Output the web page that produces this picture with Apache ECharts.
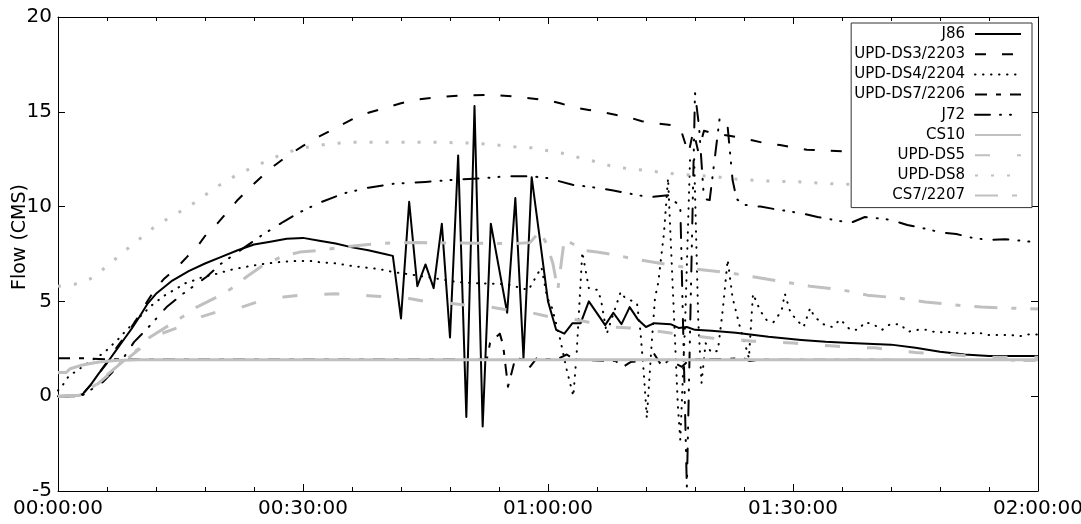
<!DOCTYPE html>
<html>
<head>
<meta charset="utf-8">
<script src="https://cdn.jsdelivr.net/npm/echarts@6/dist/echarts.min.js"></script>
<style>
  html, body { margin: 0; padding: 0; background: #ffffff; }
  #chart { width: 1081px; height: 524px; }
</style>
</head>
<body>
<div id="chart"></div>
<script>
// Flow hydrographs, time in minutes from 00:00:00, flow in CMS.
const seriesNames = ['J86', 'UPD-DS3/2203', 'UPD-DS4/2204', 'UPD-DS7/2206', 'J72',
                     'CS10', 'UPD-DS5', 'UPD-DS8', 'CS7/2207'];

const j86 = [[0,0],[2,0],[3,0.1],[4,0.6],[5,1.2],[6,1.75],[7,2.35],[8,2.95],[9,3.55],[10,4.2],
  [11,4.9],[12,5.4],[14,6.1],[16,6.6],[18,7.0],[20,7.35],[22,7.7],[24,8.0],[26,8.15],[28,8.3],
  [30,8.35],[32,8.2],[34,8.05],[36,7.85],[38,7.7],[40,7.5],[41,7.4],[42,4.1],[43,10.25],[44,5.8],
  [45,6.95],[46,5.7],[47,9.1],[48,3.1],[49,12.7],[50,-1.1],[51,15.3],[52,-1.6],[53,9.1],[55,4.4],
  [56,10.45],[57,2.0],[58,11.55],[59,8.3],[60,5.0],[61,3.5],[62,3.3],[63,3.85],[64,3.85],[65,5.0],
  [67,3.75],[68,4.4],[69,3.8],[70,4.7],[71,4.05],[72,3.65],[73,3.85],[75,3.8],[76,3.6],[77,3.65],
  [78,3.5],[80,3.45],[83,3.35],[87,3.13],[91,2.97],[94,2.87],[97,2.8],[102,2.72],[105,2.55],
  [108,2.35],[111,2.2],[114,2.12],[120,2.12]];

const updDs3 = [[0,0],[2,0],[3,0.1],[4,0.6],[5,1.2],[6,1.8],[7,2.45],[8,3.05],[9,3.65],[10,4.3],
  [11,5.05],[12,5.7],[13,6.2],[14.6,6.8],[15.8,7.35],[17.2,7.97],[18,8.45],[19.5,9.1],[21,9.85],
  [22,10.35],[24,11.2],[26,12.0],[28,12.65],[30,13.2],[32,13.7],[34,14.15],[36,14.6],[38,14.95],
  [40,15.2],[42,15.45],[44,15.65],[46,15.75],[49,15.85],[53,15.9],[56,15.8],[58,15.7],[60,15.6],
  [61.5,15.45],[63,15.25],[65,15.1],[67,14.95],[70,14.7],[71.5,14.5],[73,14.4],[75,14.3],
  [76.2,14.15],[77.2,12.8],[77.8,14.0],[78.4,12.9],[79.1,14.0],[80,13.9],[82,13.75],[84,13.6],
  [85,13.5],[87,13.3],[88.4,13.25],[90.2,13.1],[91.7,13.0],[94,12.95],[97,12.9],[100,12.8],
  [105,12.6],[110,12.4],[115,12.2],[120,12.0]];

const updDs4 = [[0,0.3],[0.6,0.6],[1.3,1.05],[2.5,1.4],[3.5,1.7],[4.5,2.0],[5.6,2.27],[6.5,2.65],
  [7.5,3.06],[8.3,3.45],[9.3,3.87],[10.3,4.3],[11.5,4.8],[13,5.3],[14.6,5.7],[15.6,5.96],[16.6,6.1],
  [17.8,6.3],[19,6.4],[21,6.65],[22.7,6.8],[24,6.9],[25.6,7.0],[27.6,7.1],[29.3,7.13],[31,7.13],
  [32,7.07],[34.2,7.0],[35.4,6.9],[37.4,6.8],[39.4,6.7],[41,6.55],[43.5,6.4],[46.4,6.2],[48.9,6.02],
  [51.3,5.96],[55,5.9],[57.6,5.6],[59.2,6.8],[59.9,5.2],[60.5,4.65],[61.5,2.98],[62.3,1.38],
  [63.1,0.0],[63.5,2.2],[64.2,7.6],[65,5.7],[66.1,5.6],[66.5,5.06],[67.2,3.3],[68.9,5.5],[69.4,5.2],
  [70.9,4.9],[71.3,3.5],[71.7,1.4],[72.1,-1.15],[72.7,2.8],[73.1,5.17],[73.5,6.0],[74.2,8.6],
  [74.7,11.5],[75.3,5.5],[75.9,-0.5],[76.2,-2.3],[76.8,4.0],[77.4,12.6],[77.9,12.5],[78.4,4.0],
  [78.8,0.7],[79.3,2.8],[80,2.3],[80.8,2.4],[81.4,4.55],[82,7.2],[82.6,5.2],[83.5,3.65],[84.1,2.8],
  [84.6,2.0],[85.1,5.4],[86,4.5],[86.8,4.0],[87.6,3.9],[88.6,4.5],[89,5.4],[89.7,4.4],[90.5,4.0],
  [91.3,3.65],[92.1,4.65],[92.6,4.2],[93.7,3.8],[94.8,3.65],[95.8,4.05],[97,3.5],[98,3.5],[98.8,3.9],
  [99.8,3.8],[100.9,3.5],[101.9,3.8],[103.1,3.8],[104.1,3.4],[105.3,3.5],[106.4,3.5],[107.6,3.35],
  [108.8,3.4],[110,3.35],[111.3,3.3],[112.7,3.35],[113.9,3.23],[115.3,3.23],[116.6,3.23],
  [117.8,3.17],[119,3.27],[120,3.25]];

const updDs7 = [[0,2.0],[3,2.0],[6,1.95],[10,1.93],[50,1.93],[52.5,1.93],[52.9,2.8],[54.1,3.3],
  [54.5,2.7],[55.1,0.5],[56,2.0],[57.2,1.93],[57.8,1.55],[58.6,2.0],[61,1.93],[62.3,2.2],[63.2,1.93],
  [68.3,1.85],[69.2,1.55],[70.1,1.8],[72.4,1.93],[72.9,2.3],[74,1.55],[74.8,1.93],[75.5,1.75],
  [76.4,1.55],[77,1.8],[78,1.93],[84,2.0],[84.7,1.85],[86,1.93],[120,1.9]];

const j72 = [[0,0],[3,0.05],[4.6,0.5],[5.5,0.75],[7.3,1.55],[9.3,2.85],[11,3.6],[13.3,4.7],
  [15.3,5.4],[18.2,6.3],[20,7.0],[22,7.6],[25,8.5],[27.6,9.2],[29.6,9.7],[32,10.2],[35,10.7],
  [38,11.0],[41,11.2],[45,11.3],[48,11.4],[52,11.5],[55,11.6],[58,11.6],[60,11.5],[63,11.15],
  [65,11.05],[68,10.85],[71,10.6],[72.5,10.5],[74.7,10.6],[76.2,10.0],[77,-4.8],[78,16.0],
  [78.5,14.2],[79.1,10.4],[79.8,10.35],[81,14.6],[82,14.2],[82.6,11.4],[83.1,10.4],[84,10.1],
  [86,10.0],[88,9.85],[91,9.65],[93,9.45],[95,9.3],[97,9.13],[98.8,9.45],[100,9.4],[102,9.3],
  [104,9.03],[106,8.85],[108,8.65],[110,8.55],[112,8.35],[114,8.24],[116,8.28],[118,8.2],
  [119.5,8.13],[120,7.87]];

const cs10 = [[0,1.25],[1,1.25],[1.5,1.45],[3,1.65],[5,1.8],[7,1.88],[10,1.92],[120,1.92]];

const updDs5 = [[0,0],[3,0.05],[5,0.7],[8,1.8],[10,2.5],[12,3.2],[14.6,3.6],[17.6,4.2],[19.5,4.45],
  [22.5,4.7],[24.4,4.97],[27.6,5.23],[30,5.35],[34,5.4],[38,5.3],[40,5.25],[43,5.15],[45,5.0],
  [48,4.9],[50,4.8],[53,4.7],[55,4.55],[58,4.4],[60,4.2],[63,4.07],[65,3.9],[68,3.65],[70,3.6],
  [73,3.45],[75,3.33],[78,3.17],[80,3.07],[83,3.0],[85,2.9],[88,2.85],[90,2.8],[93,2.7],[95,2.65],
  [98,2.55],[100,2.55],[103,2.4],[105,2.3],[108,2.25],[110,2.17],[114,2.06],[120,2.05]];

const updDs8 = [[0,5.8],[2,5.9],[4,6.2],[6,6.85],[8,7.6],[10,8.3],[12,9.0],[14,9.5],[16,10.0],
  [18,10.6],[20,11.2],[22,11.7],[24,12.1],[26,12.5],[28,12.85],[30,13.1],[33,13.3],[36,13.4],
  [45,13.4],[50,13.36],[52.5,13.3],[56,13.15],[58,13.1],[60,12.95],[62,12.8],[64,12.56],[66,12.35],
  [68,12.1],[70,12.0],[72,11.9],[74,11.8],[76,11.7],[80,11.6],[83,11.45],[87,11.35],[91,11.3],
  [95,11.2],[100,11.15],[110,11.1],[120,11.0]];

const cs7 = [[0,0],[3,0.05],[5,0.75],[8,1.85],[10,2.55],[11.2,3.1],[14,3.85],[15.3,4.2],[17,4.7],
  [19.8,5.3],[21.5,5.75],[23.1,6.3],[25.1,6.9],[27.6,7.4],[29.6,7.6],[32.4,7.7],[35,7.88],[38,8.0],
  [40,8.07],[44,8.1],[56,8.05],[57.8,8.1],[59,8.7],[59.8,8.07],[60.6,7.0],[61.2,5.6],[62,8.3],
  [64.3,7.7],[66,7.6],[68.2,7.45],[71,7.2],[75.3,6.9],[78.2,6.7],[82.3,6.5],[85.1,6.3],[89.3,6.0],
  [92.1,5.8],[96.1,5.6],[99.1,5.33],[103.1,5.17],[106.2,4.97],[110.2,4.8],[113.1,4.7],[116,4.65],
  [120,4.6]];

const seriesData = [j86, updDs3, updDs4, updDs7, j72, cs10, updDs5, updDs8, cs7];

const BLACK = '#000000';
const GRAY = '#c0c0c0';
const FONT = 'DejaVu Sans';

// colour, width, dash pattern and cap for each curve
const lineLooks = [
  { color: BLACK, width: 2,   type: 'solid',           cap: 'butt'  },
  { color: BLACK, width: 2,   type: [11, 16],          cap: 'butt'  },
  { color: BLACK, width: 2,   type: [0.5, 7.5],        cap: 'round' },
  { color: BLACK, width: 2,   type: [12, 9, 5, 9],     cap: 'butt'  },
  { color: BLACK, width: 2,   type: [15, 10, 1, 9, 1, 12], cap: 'round' },
  { color: GRAY,  width: 3,   type: 'solid',           cap: 'butt'  },
  { color: GRAY,  width: 3,   type: [15, 27],          cap: 'butt'  },
  { color: GRAY,  width: 3,   type: [3, 13],           cap: 'butt'  },
  { color: GRAY,  width: 3,   type: [23, 14, 5, 14],   cap: 'butt'  }
];

function pad2(n) { return (n < 10 ? '0' : '') + n; }
function clock(minutes) {
  const h = Math.floor(minutes / 60);
  const m = Math.round(minutes - h * 60);
  return pad2(h) + ':' + pad2(m) + ':00';
}

const frameLine = { show: true, onZero: false, lineStyle: { color: BLACK, width: 1 } };
const tickIn = { show: true, inside: true, length: 7, lineStyle: { color: BLACK, width: 1 } };
const minorIn = { show: true, splitNumber: 5, length: 4, lineStyle: { color: BLACK, width: 1 } };

const chart = echarts.init(document.getElementById('chart'), null, { renderer: 'canvas' });

chart.setOption({
  animation: false,
  backgroundColor: '#ffffff',
  grid: { left: 58, right: 43, top: 17, bottom: 33, outerBoundsMode: 'none', containLabel: false },
  xAxis: [
    {
      type: 'value', min: 0, max: 120, interval: 30,
      axisLine: frameLine, axisTick: tickIn, minorTick: minorIn,
      splitLine: { show: false }, minorSplitLine: { show: false },
      axisLabel: { formatter: clock, color: BLACK, fontFamily: FONT, fontSize: 20, margin: 8,
                   showMinLabel: true, showMaxLabel: true, hideOverlap: false }
    },
    {
      type: 'value', position: 'top', min: 0, max: 120, interval: 30,
      axisLine: frameLine, axisTick: tickIn, minorTick: minorIn,
      splitLine: { show: false }, minorSplitLine: { show: false },
      axisLabel: { show: false }
    }
  ],
  yAxis: [
    {
      type: 'value', min: -5, max: 20, interval: 5,
      name: 'Flow (CMS)', nameLocation: 'middle', nameGap: 28, nameMoveOverlap: false,
      nameTextStyle: { color: BLACK, fontFamily: FONT, fontSize: 19, padding: [0, 0, 0, 34] },
      axisLine: frameLine, axisTick: tickIn,
      splitLine: { show: false },
      axisLabel: { color: BLACK, fontFamily: FONT, fontSize: 20, margin: 6,
                   showMinLabel: true, showMaxLabel: true }
    },
    {
      type: 'value', position: 'right', min: -5, max: 20, interval: 5,
      axisLine: frameLine, axisTick: tickIn,
      splitLine: { show: false }, axisLabel: { show: false }
    }
  ],
  legend: {
    data: seriesNames,
    orient: 'vertical', right: 49, top: 23, align: 'right',
    itemWidth: 46, itemHeight: 14, itemGap: 0.2,
    padding: [1, 10, 2, 3],
    backgroundColor: '#ffffff', borderColor: '#333333', borderWidth: 1, borderRadius: 0,
    selectedMode: false,
    itemStyle: { opacity: 0 },
    formatter: function (name) { return '{t|' + name + '}'; },
    textStyle: {
      color: BLACK, fontFamily: FONT, fontSize: 15, lineHeight: 20,
      rich: { t: { color: BLACK, fontFamily: FONT, fontSize: 15, lineHeight: 20, padding: [0, 5, 0, 0] } }
    }
  },
  series: seriesNames.map(function (name, i) {
    const look = lineLooks[i];
    return {
      name: name,
      type: 'line',
      xAxisIndex: 0,
      yAxisIndex: 0,
      data: seriesData[i],
      symbol: 'none',
      showSymbol: false,
      silent: true,
      clip: true,
      color: look.color,
      itemStyle: { color: look.color },
      lineStyle: { color: look.color, width: look.width, type: look.type, cap: look.cap, join: 'round' },
      emphasis: { disabled: true }
    };
  })
});
</script>
</body>
</html>
